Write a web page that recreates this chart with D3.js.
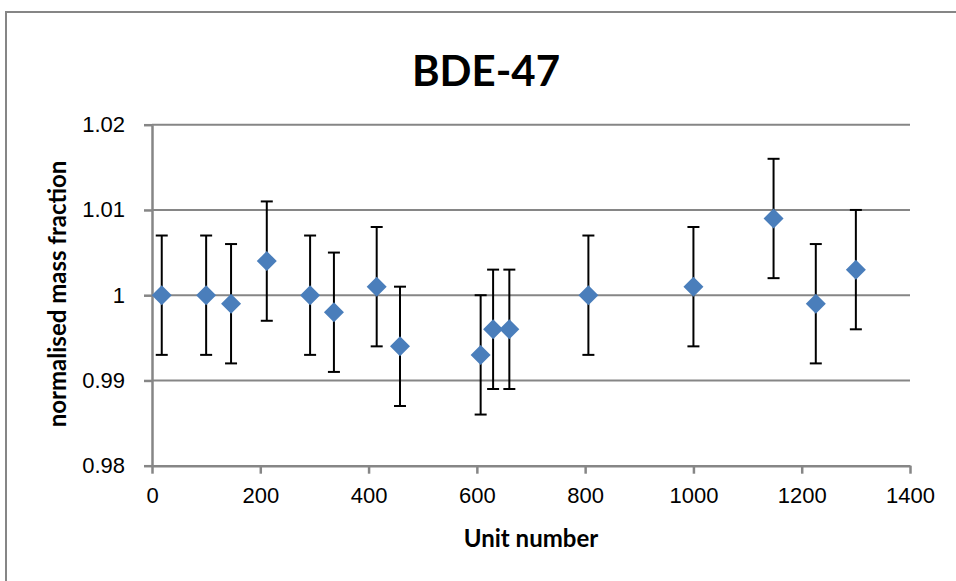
<!DOCTYPE html>
<meta charset="utf-8">
<style type="text/css">
body { margin: 0; background: #fff; }
svg { font-family: Lato, "Open Sans", sans-serif; }
.grid line { stroke: #868686; stroke-width: 2px; }
.axis path, .axis line { stroke: #868686; stroke-width: 2.5px; }
.axis text { fill: #000; font-size: 22px; }
.err { stroke: #000; stroke-width: 2px; }
</style>
<body>
<script src="https://d3js.org/d3.v7.min.js"></script>
<script>
// data
let units  = [18, 100, 146, 212, 292, 336, 415, 458, 607, 630, 660, 806, 1000, 1148, 1226, 1300];
let values = [1.000, 1.000, 0.999, 1.004, 1.000, 0.998, 1.001, 0.994, 0.993, 0.996, 0.996, 1.000, 1.001, 1.009, 0.999, 1.003];
let errors = [0.007, 0.007, 0.007, 0.007, 0.007, 0.007, 0.007, 0.007, 0.007, 0.007, 0.007, 0.007, 0.007, 0.007, 0.007, 0.007];
let xTicks = [0, 200, 400, 600, 800, 1000, 1200, 1400];
let yTicks = [0.98, 0.99, 1.00, 1.01, 1.02];
let yTickLabels = ["0.98", "0.99", "1", "1.01", "1.02"];

let W = 956, H = 581;
let mLeft = 152, mRight = 910, mTop = 124.7, mBottom = 465.7;

let svg = d3.select("body").append("svg")
    .attr("width", W)
    .attr("height", H);

// chart border (runs off the page on right and bottom)
svg.append("rect")
    .attr("x", 6).attr("y", 12)
    .attr("width", 1000).attr("height", 1000)
    .attr("fill", "none")
    .attr("stroke", "#868686")
    .attr("stroke-width", 2);

let x = d3.scaleLinear().domain([0, 1400]).range([mLeft, mRight]);
let y = d3.scaleLinear().domain([0.98, 1.02]).range([mBottom, mTop]);

// gridlines
svg.append("g").attr("class", "grid")
    .selectAll("line")
    .data(yTicks.slice(1))
    .join("line")
        .attr("x1", mLeft).attr("x2", mRight)
        .attr("y1", d => y(d)).attr("y2", d => y(d));

// axes
svg.append("g").attr("class", "axis")
    .attr("transform", "translate(0," + mBottom + ")")
    .call(d3.axisBottom(x).tickValues(xTicks).tickFormat(d3.format("d"))
        .tickSize(8).tickPadding(14).tickSizeOuter(0))
    .selectAll("text").attr("dy", "0.71em");

svg.append("g").attr("class", "axis")
    .attr("transform", "translate(" + mLeft + ",0)")
    .call(d3.axisLeft(y).tickValues(yTicks).tickSize(8).tickPadding(19).tickSizeOuter(0)
        .tickFormat((d, i) => yTickLabels[i]));

// error bars
let pts = units.map((u, i) => ({u: u, v: values[i], e: errors[i]}));

let eb = svg.append("g");
eb.selectAll(".stem")
    .data(pts)
    .join("line")
        .attr("class", "err")
        .attr("x1", d => x(d.u)).attr("x2", d => x(d.u))
        .attr("y1", d => y(d.v - d.e)).attr("y2", d => y(d.v + d.e));
eb.selectAll(".capTop")
    .data(pts)
    .join("line")
        .attr("class", "err")
        .attr("x1", d => x(d.u) - 6).attr("x2", d => x(d.u) + 6)
        .attr("y1", d => y(d.v + d.e)).attr("y2", d => y(d.v + d.e));
eb.selectAll(".capBot")
    .data(pts)
    .join("line")
        .attr("class", "err")
        .attr("x1", d => x(d.u) - 6).attr("x2", d => x(d.u) + 6)
        .attr("y1", d => y(d.v - d.e)).attr("y2", d => y(d.v - d.e));

// diamond markers
let r = 10;
svg.append("g")
    .selectAll("path")
    .data(pts)
    .join("path")
        .attr("d", d => {
            let cx = x(d.u), cy = y(d.v);
            return "M" + cx + "," + (cy - r) + "L" + (cx + r) + "," + cy +
                   "L" + cx + "," + (cy + r) + "L" + (cx - r) + "," + cy + "Z";
        })
        .attr("fill", "#4a7ebb");

// titles
svg.append("text")
    .attr("x", 486).attr("y", 86)
    .attr("text-anchor", "middle")
    .style("font-size", "42px").style("font-weight", "bold")
    .text("BDE-47");

svg.append("text")
    .attr("x", (mLeft + mRight) / 2).attr("y", 547)
    .attr("text-anchor", "middle")
    .style("font-size", "24px").style("font-weight", "bold")
    .text("Unit number");

svg.append("text")
    .attr("transform", "translate(66,294) rotate(-90)")
    .attr("text-anchor", "middle")
    .style("font-size", "24px").style("font-weight", "bold")
    .text("normalised mass fraction");
</script>
</body>
